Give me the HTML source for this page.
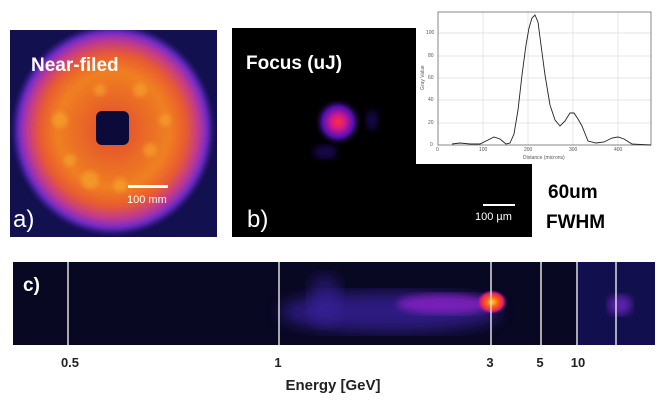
<!DOCTYPE html>
<html><head><meta charset="utf-8"><style>
html,body{margin:0;padding:0;background:#fff;}
body{width:664px;height:405px;position:relative;overflow:hidden;font-family:"Liberation Sans",sans-serif;}
</style></head><body>
<svg width="664" height="405" viewBox="0 0 664 405" style="position:absolute;left:0;top:0">
<defs>
<filter id="b4"><feGaussianBlur stdDeviation="4"/></filter>
<filter id="b8"><feGaussianBlur stdDeviation="8"/></filter>
<filter id="b2"><feGaussianBlur stdDeviation="2"/></filter>
<radialGradient id="ring" cx="0.5" cy="0.5" r="0.5">
<stop offset="0" stop-color="#e04a30"/>
<stop offset="0.55" stop-color="#f08020"/>
<stop offset="0.72" stop-color="#e85a30"/>
<stop offset="0.84" stop-color="#c03890"/>
<stop offset="0.93" stop-color="#6a2ad0"/>
<stop offset="1" stop-color="#2a1a80" stop-opacity="0"/>
</radialGradient>
<radialGradient id="spot" cx="0.5" cy="0.5" r="0.5">
<stop offset="0" stop-color="#ff3030"/>
<stop offset="0.3" stop-color="#d01890"/>
<stop offset="0.65" stop-color="#5010b0"/>
<stop offset="1" stop-color="#000" stop-opacity="0"/>
</radialGradient>
<radialGradient id="hot" cx="0.5" cy="0.5" r="0.5">
<stop offset="0" stop-color="#ffd030"/>
<stop offset="0.4" stop-color="#ff6010"/>
<stop offset="0.75" stop-color="#e02060"/>
<stop offset="1" stop-color="#a010c0" stop-opacity="0"/>
</radialGradient>
</defs>
<!-- panel a -->
<rect x="10" y="30" width="207" height="207" fill="#12104e"/>
<clipPath id="ca"><rect x="10" y="30" width="207" height="207"/></clipPath>
<g clip-path="url(#ca)">
<ellipse cx="113" cy="130" rx="102" ry="106" fill="url(#ring)" filter="url(#b2)"/>
<g fill="#f8b030" opacity="0.5" filter="url(#b2)">
<circle cx="60" cy="120" r="8"/><circle cx="150" cy="150" r="7"/><circle cx="90" cy="180" r="9"/><circle cx="140" cy="90" r="7"/><circle cx="70" cy="160" r="6"/><circle cx="165" cy="120" r="6"/><circle cx="100" cy="90" r="6"/><circle cx="120" cy="185" r="7"/>
</g>
<rect x="96" y="111" width="33" height="34" rx="6" fill="#0c0a38"/>
</g>
<text x="31" y="71" font-size="19" font-weight="bold" fill="#fff">Near-filed</text>
<rect x="128" y="185" width="40" height="3" fill="#fff"/>
<text x="127" y="203" font-size="11" fill="#fff">100  mm</text>
<text x="13" y="227" font-size="24" fill="#fff">a)</text>
<!-- panel b -->
<rect x="232" y="28" width="300" height="209" fill="#000"/>
<ellipse cx="338" cy="122" rx="24" ry="24" fill="url(#spot)"/>
<ellipse cx="325" cy="152" rx="12" ry="7" fill="#3010a0" opacity="0.5" filter="url(#b4)"/>
<ellipse cx="372" cy="120" rx="6" ry="10" fill="#3010a0" opacity="0.5" filter="url(#b4)"/>
<text x="246" y="69" font-size="19" font-weight="bold" fill="#fff">Focus (uJ)</text>
<rect x="483" y="204" width="32" height="2" fill="#fff"/>
<text x="475" y="220" font-size="11" fill="#fff">100 µm</text>
<text x="247" y="227" font-size="24" fill="#fff">b)</text>
<!-- inset -->
<rect x="416" y="2" width="248" height="162" fill="#fff"/>
<g stroke="#ddd" stroke-width="0.7">
<line x1="483" y1="12" x2="483" y2="145"/><line x1="528" y1="12" x2="528" y2="145"/><line x1="573" y1="12" x2="573" y2="145"/><line x1="618" y1="12" x2="618" y2="145"/>
<line x1="438" y1="123" x2="651" y2="123"/><line x1="438" y1="100" x2="651" y2="100"/><line x1="438" y1="78" x2="651" y2="78"/><line x1="438" y1="56" x2="651" y2="56"/><line x1="438" y1="33" x2="651" y2="33"/>
</g>
<rect x="438" y="12" width="213" height="133" fill="none" stroke="#555" stroke-width="0.7"/>
<polyline fill="none" stroke="#222" stroke-width="0.9" points="452,144 460,143 470,144 480,144 488,140 494,137 500,139 506,144 510,143 514,134 518,110 522,75 526,45 529,28 532,18 535,15 538,22 541,45 545,75 550,105 555,120 560,126 565,121 570,113 574,113 578,119 582,126 588,141 596,143 604,142 612,138 618,137 624,139 632,144 651,145"/>
<g font-size="5" fill="#555">
<text x="436" y="151">0</text><text x="479" y="151">100</text><text x="524" y="151">200</text><text x="569" y="151">300</text><text x="614" y="151">400</text>
<text x="430" y="146">0</text><text x="428" y="124">20</text><text x="428" y="101">40</text><text x="428" y="79">60</text><text x="428" y="57">80</text><text x="426" y="34">100</text>
<text x="523" y="159">Distance (microns)</text>
<text x="424" y="90" transform="rotate(-90 424 90)">Gray Value</text>
</g>
<text x="548" y="198" font-size="19" font-weight="bold" fill="#000">60um</text>
<text x="546" y="228" font-size="19" font-weight="bold" fill="#000">FWHM</text>
<!-- panel c -->
<rect x="13" y="262" width="642" height="83" fill="#080822"/>
<clipPath id="cc"><rect x="13" y="262" width="642" height="83"/></clipPath>
<g clip-path="url(#cc)">
<ellipse cx="390" cy="312" rx="110" ry="20" fill="#3a20a0" opacity="0.75" filter="url(#b8)"/>
<ellipse cx="325" cy="300" rx="16" ry="25" fill="#3a20a0" opacity="0.6" filter="url(#b8)"/>
<ellipse cx="445" cy="304" rx="48" ry="10" fill="#8a20c8" opacity="0.8" filter="url(#b4)"/>
<ellipse cx="492" cy="302" rx="15" ry="12" fill="url(#hot)"/>
<rect x="577" y="262" width="78" height="83" fill="#15125a" opacity="0.8"/>
<ellipse cx="620" cy="305" rx="12" ry="10" fill="#6a28c0" opacity="0.8" filter="url(#b4)"/>
</g>
<g stroke="#ddd" stroke-width="1.5">
<line x1="68" y1="262" x2="68" y2="345"/><line x1="279" y1="262" x2="279" y2="345"/><line x1="491" y1="262" x2="491" y2="345"/><line x1="541" y1="262" x2="541" y2="345"/><line x1="577" y1="262" x2="577" y2="345"/><line x1="616" y1="262" x2="616" y2="345"/>
</g>
<text x="23" y="291" font-size="19" font-weight="bold" fill="#fff">c)</text>
<g font-size="13" font-weight="bold" fill="#222" text-anchor="middle">
<text x="70" y="367">0.5</text><text x="278" y="367">1</text><text x="490" y="367">3</text><text x="540" y="367">5</text><text x="578" y="367">10</text>
</g>
<text x="333" y="390" font-size="15" font-weight="bold" fill="#222" text-anchor="middle">Energy [GeV]</text>
</svg>
</body></html>
